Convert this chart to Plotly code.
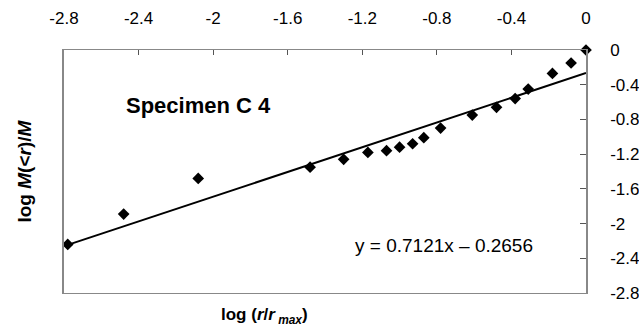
import plotly.graph_objects as go

# Data
log_r = [-2.78, -2.48, -2.08, -1.48, -1.30, -1.17, -1.07, -1.00, -0.93, -0.87,
         -0.78, -0.61, -0.48, -0.38, -0.31, -0.18, -0.08, 0.0]
log_m = [-2.24, -1.89, -1.48, -1.35, -1.26, -1.18, -1.16, -1.12, -1.08, -1.01,
         -0.90, -0.75, -0.66, -0.56, -0.45, -0.27, -0.15, 0.0]

slope = 0.7121
intercept = -0.2656

x_ticks = [-2.8, -2.4, -2.0, -1.6, -1.2, -0.8, -0.4, 0.0]
x_tick_labels = ["-2.8", "-2.4", "-2", "-1.6", "-1.2", "-0.8", "-0.4", "0"]
y_ticks = [0.0, -0.4, -0.8, -1.2, -1.6, -2.0, -2.4, -2.8]
y_tick_labels = ["0", "-0.4", "-0.8", "-1.2", "-1.6", "-2", "-2.4", "-2.8"]

FONT = "Arial, Liberation Sans, sans-serif"

line_x = [min(log_r), max(log_r)]
line_y = [slope * v + intercept for v in line_x]

fig = go.Figure()
fig.add_trace(go.Scatter(
    x=line_x, y=line_y, mode="lines",
    line=dict(color="black", width=2), showlegend=False, hoverinfo="skip"))
fig.add_trace(go.Scatter(
    x=log_r, y=log_m, mode="markers",
    marker=dict(symbol="diamond", size=9, color="black"),
    showlegend=False, cliponaxis=False))

fig.update_layout(
    width=639, height=332,
    margin=dict(l=64, r=53, t=50, b=39),
    paper_bgcolor="white", plot_bgcolor="white",
    font=dict(family=FONT, color="black", size=16),
    xaxis=dict(
        side="top", range=[-2.8, 0], tickvals=x_ticks, ticktext=x_tick_labels,
        ticks="inside", ticklen=5, tickcolor="#555", showgrid=False,
        zeroline=False, showline=True, linecolor="#888", linewidth=1,
        mirror=True, ticklabelstandoff=18, tickfont=dict(size=17),
        automargin=False),
    yaxis=dict(
        side="right", range=[-2.8, 0], tickvals=y_ticks, ticktext=y_tick_labels,
        ticks="inside", ticklen=6, tickcolor="#555", showgrid=False,
        zeroline=False, showline=True, linecolor="#888", linewidth=1.5,
        mirror=True, ticklabelstandoff=19, tickfont=dict(size=17),
        automargin=False),
    annotations=[
        dict(x=-2.076, y=-0.634, xref="x", yref="y", text="<b>Specimen C 4</b>",
             showarrow=False, xanchor="center", yanchor="middle",
             font=dict(size=22, family=FONT)),
        dict(x=-0.761, y=-2.258, xref="x", yref="y",
             text="y = 0.7121x \u2013 0.2656",
             showarrow=False, xanchor="center", yanchor="middle",
             font=dict(size=19, family=FONT)),
        dict(x=0.385, y=-0.095, xref="paper", yref="paper",
             text="<b>log (<i>r</i>/<i>r</i><sub><i> max</i></sub>)</b>",
             showarrow=False, xanchor="center", yanchor="middle",
             font=dict(size=17, family=FONT)),
        dict(x=-0.0766, y=0.5, xref="paper", yref="paper", textangle=-90,
             text="<b>log <i>M</i>(<<i>r</i>)/<i>M</i></b>",
             showarrow=False, xanchor="center", yanchor="middle",
             font=dict(size=19, family=FONT)),
    ],
)

fig.write_html("out.html", config={"displayModeBar": False},
               post_script="document.body.style.margin='0px';document.body.style.overflow='hidden';")
